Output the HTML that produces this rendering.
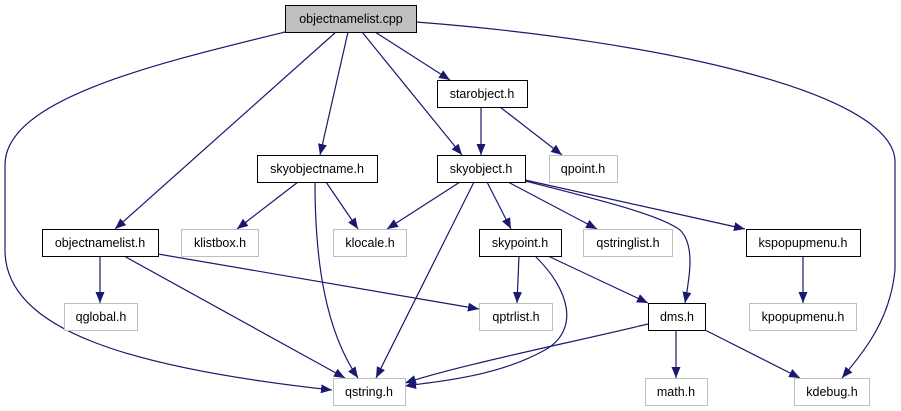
<!DOCTYPE html>
<html><head><meta charset="utf-8"><style>
html,body{margin:0;padding:0;background:#fff;}
svg{display:block;}
text{font-family:"Liberation Sans",sans-serif;font-size:12.5px;fill:#000;}
</style></head><body>
<svg width="901" height="411" viewBox="0 0 901 411" xmlns="http://www.w3.org/2000/svg">
<defs>
<marker id="a" markerUnits="userSpaceOnUse" markerWidth="12" markerHeight="10" refX="11" refY="4.5" orient="auto">
<path d="M0,0 L11,4.5 L0,9 Z" fill="#191970"/>
</marker>
</defs>
<g fill="none" stroke="#191970" stroke-width="1.2" marker-end="url(#a)">
<path d="M285,32 C150,65 5,100 5,165 L5,250 C5,330 130,368 332,390"/>
<path d="M336,32 L115,229"/>
<path d="M348,32 L320,155"/>
<path d="M362,32 L462,155"/>
<path d="M375,32 L450,80"/>
<path d="M416,22 C650,40 890,90 895,160 L895,270 C890,320 865,350 842,378"/>
<path d="M481,107 L481,155"/>
<path d="M500,107 L562,155"/>
<path d="M298,182 L237,229"/>
<path d="M326,182 L358,229"/>
<path d="M315,182 C315,260 325,330 358,378"/>
<path d="M460,182 L387,229"/>
<path d="M474,182 L376,378"/>
<path d="M487,182 L511,229"/>
<path d="M508,182 L597,229"/>
<path d="M525,180 L745,229"/>
<path d="M525,181 C600,200 660,215 680,230 C695,245 690,275 685,303"/>
<path d="M100,256 L100,303"/>
<path d="M124,256 L345,378"/>
<path d="M158,254 L479,309"/>
<path d="M519,256 L517,303"/>
<path d="M548,256 L648,303"/>
<path d="M535,256 C570,290 580,330 545,350 C500,375 450,380 405,386"/>
<path d="M648,324 C560,345 460,365 405,383"/>
<path d="M676,330 L676,378"/>
<path d="M705,330 L800,378"/>
<path d="M803,256 L803,303"/>
</g>
<g stroke-width="1">
<rect x="285.5" y="5.5" width="131" height="27" fill="#bfbfbf" stroke="#000"/>
<rect x="437.5" y="80.5" width="90" height="27" fill="#fff" stroke="#000"/>
<rect x="257.5" y="155.5" width="120" height="27" fill="#fff" stroke="#000"/>
<rect x="437.5" y="155.5" width="88" height="27" fill="#fff" stroke="#000"/>
<rect x="549.5" y="155.5" width="68" height="27" fill="#fff" stroke="#bfbfbf"/>
<rect x="42.5" y="229.5" width="116" height="27" fill="#fff" stroke="#000"/>
<rect x="181.5" y="229.5" width="77" height="27" fill="#fff" stroke="#bfbfbf"/>
<rect x="333.5" y="229.5" width="73" height="27" fill="#fff" stroke="#bfbfbf"/>
<rect x="479.5" y="229.5" width="82" height="27" fill="#fff" stroke="#000"/>
<rect x="583.5" y="229.5" width="89" height="27" fill="#fff" stroke="#bfbfbf"/>
<rect x="746.5" y="229.5" width="114" height="27" fill="#fff" stroke="#000"/>
<rect x="64.5" y="303.5" width="73" height="27" fill="#fff" stroke="#bfbfbf"/>
<rect x="479.5" y="303.5" width="73" height="27" fill="#fff" stroke="#bfbfbf"/>
<rect x="648.5" y="303.5" width="57" height="27" fill="#fff" stroke="#000"/>
<rect x="749.5" y="303.5" width="107" height="27" fill="#fff" stroke="#bfbfbf"/>
<rect x="333.5" y="378.5" width="72" height="27" fill="#fff" stroke="#bfbfbf"/>
<rect x="645.5" y="378.5" width="62" height="27" fill="#fff" stroke="#bfbfbf"/>
<rect x="794.5" y="378.5" width="75" height="27" fill="#fff" stroke="#bfbfbf"/>
</g>
<g text-anchor="middle">
<text x="351" y="23">objectnamelist.cpp</text>
<text x="482" y="98">starobject.h</text>
<text x="317" y="173">skyobjectname.h</text>
<text x="481" y="173">skyobject.h</text>
<text x="583" y="173">qpoint.h</text>
<text x="100" y="247">objectnamelist.h</text>
<text x="220" y="247">klistbox.h</text>
<text x="370" y="247">klocale.h</text>
<text x="520" y="247">skypoint.h</text>
<text x="628" y="247">qstringlist.h</text>
<text x="803" y="247">kspopupmenu.h</text>
<text x="101" y="321">qglobal.h</text>
<text x="516" y="321">qptrlist.h</text>
<text x="677" y="321">dms.h</text>
<text x="803" y="321">kpopupmenu.h</text>
<text x="369" y="396">qstring.h</text>
<text x="676" y="396">math.h</text>
<text x="832" y="396">kdebug.h</text>
</g>
</svg>
</body></html>
